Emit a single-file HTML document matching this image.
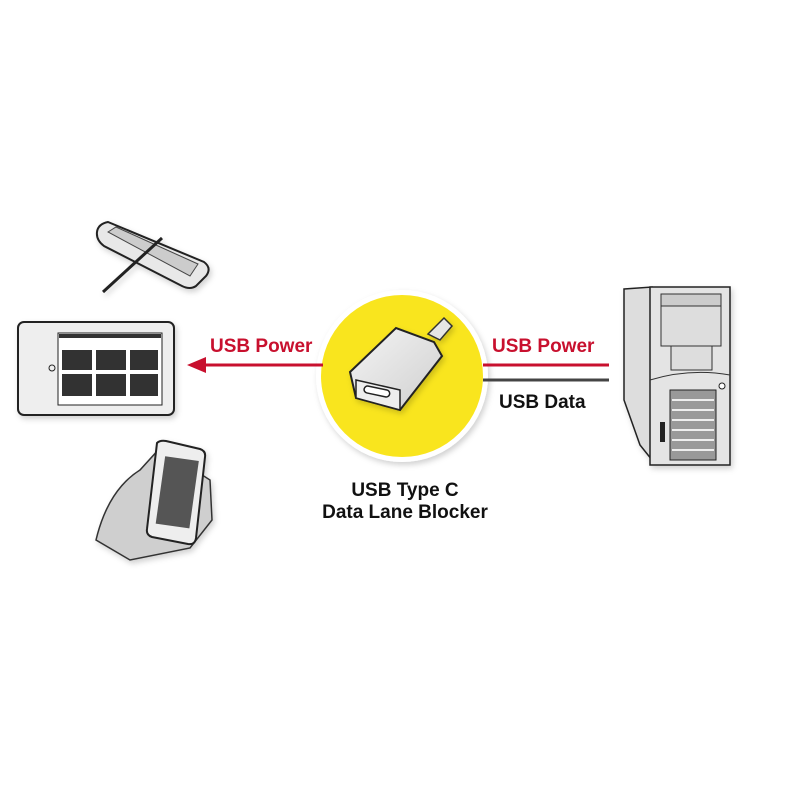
<!DOCTYPE html>
<html><head><meta charset="utf-8"><style>
html,body{margin:0;padding:0;background:#fff;width:800px;height:800px;overflow:hidden}
text{font-family:"Liberation Sans",sans-serif;font-weight:bold}
</style></head><body>
<svg width="800" height="800" viewBox="0 0 800 800" xmlns="http://www.w3.org/2000/svg">
<defs>
<filter id="sh" x="-20%" y="-20%" width="140%" height="140%"><feDropShadow dx="2" dy="3" stdDeviation="3" flood-color="#000" flood-opacity="0.18"/></filter>
<linearGradient id="al" x1="0" y1="0" x2="1" y2="1"><stop offset="0" stop-color="#f4f4f4"/><stop offset="1" stop-color="#cfcfcf"/></linearGradient>
</defs>
<rect width="800" height="800" fill="#fff"/>

<circle cx="402" cy="376" r="86" fill="#fff" filter="url(#sh)"/>
<circle cx="402" cy="376" r="81" fill="#f9e51e"/>
<g filter="url(#sh)">
<path d="M428 334 L444 318 L452 326 L440 340 Z" fill="#e6e6e6" stroke="#333" stroke-width="1.5"/>
<path d="M350 372 L396 328 L434 342 L442 356 L400 410 L356 398 Z" fill="url(#al)" stroke="#222" stroke-width="2"/>
<path d="M356 380 L400 390 L400 410 L356 398 Z" fill="#eee" stroke="#222" stroke-width="1.5"/>
<rect x="364" y="388" width="26" height="7" rx="3.5" fill="#fff" stroke="#222" stroke-width="1.5" transform="rotate(12 377 391)"/>
</g>

<line x1="200" y1="365" x2="323" y2="365" stroke="#c8102e" stroke-width="3"/>
<polygon points="187,365 206,357 206,373" fill="#c8102e"/>
<text x="210" y="352" font-size="19" fill="#c8102e">USB Power</text>

<line x1="483" y1="365" x2="609" y2="365" stroke="#c8102e" stroke-width="3"/>
<line x1="483" y1="380" x2="609" y2="380" stroke="#444" stroke-width="3"/>
<text x="492" y="352" font-size="19" fill="#c8102e">USB Power</text>
<text x="499" y="408" font-size="19" fill="#111">USB Data</text>

<text x="405" y="496" font-size="19" fill="#111" text-anchor="middle">USB Type C</text>
<text x="405" y="518" font-size="19" fill="#111" text-anchor="middle">Data Lane Blocker</text>

<g filter="url(#sh)">
<path d="M624 289 L652 287 L652 460 L640 445 L624 400 Z" fill="#ddd" stroke="#222" stroke-width="1.5"/>
<rect x="650" y="287" width="80" height="178" fill="#e4e4e4" stroke="#222" stroke-width="1.5"/>
<rect x="661" y="294" width="60" height="12" fill="#ccc" stroke="#333"/>
<rect x="661" y="306" width="60" height="40" fill="#ddd" stroke="#333"/>
<rect x="671" y="346" width="41" height="24" fill="#ddd" stroke="#333"/>
<path d="M650 380 Q690 368 730 375" fill="none" stroke="#333"/>
<path d="M670 390 L716 390 L716 460 L670 460 Z" fill="#999" stroke="#222"/>
<g stroke="#eee" stroke-width="2">
<line x1="672" y1="400" x2="714" y2="400"/><line x1="672" y1="410" x2="714" y2="410"/><line x1="672" y1="420" x2="714" y2="420"/><line x1="672" y1="430" x2="714" y2="430"/><line x1="672" y1="440" x2="714" y2="440"/><line x1="672" y1="450" x2="714" y2="450"/>
</g>
<circle cx="722" cy="386" r="3" fill="#fff" stroke="#222"/>
<rect x="660" y="422" width="5" height="20" fill="#222"/>
</g>

<g filter="url(#sh)">
<rect x="18" y="322" width="156" height="93" rx="6" fill="#eee" stroke="#222" stroke-width="2"/>
<rect x="58" y="333" width="104" height="72" fill="#fff" stroke="#222"/>
<rect x="59" y="334" width="102" height="4" fill="#333"/>
<g fill="#333">
<rect x="62" y="350" width="30" height="20"/><rect x="96" y="350" width="30" height="20"/><rect x="130" y="350" width="28" height="20"/>
<rect x="62" y="374" width="30" height="22"/><rect x="96" y="374" width="30" height="22"/><rect x="130" y="374" width="28" height="22"/>
</g>
<circle cx="52" cy="368" r="3" fill="none" stroke="#222"/>
</g>

<g filter="url(#sh)">
<path d="M97 232 Q98 224 108 222 L204 262 Q212 268 206 276 L196 286 Q190 290 182 286 L104 246 Q96 240 97 232 Z" fill="#e8e8e8" stroke="#222" stroke-width="2"/>
<path d="M108 232 L116 227 L198 264 L190 276 Z" fill="#ccc" stroke="#444"/>
<line x1="103" y1="292" x2="162" y2="238" stroke="#222" stroke-width="3"/>
</g>

<g filter="url(#sh)">
<path d="M96 540 Q108 490 140 470 L160 448 L210 480 L212 520 L190 548 L130 560 Z" fill="#cfcfcf" stroke="#333" stroke-width="1.5"/>
<path d="M157 443 Q160 440 166 441 L200 449 Q206 451 205 457 L196 538 Q195 545 188 544 L152 537 Q146 535 147 529 Z" fill="#eee" stroke="#222" stroke-width="2"/>
<rect x="160" y="458" width="34" height="68" fill="#555" transform="rotate(8 175 494)"/>
</g>
</svg>
</body></html>
